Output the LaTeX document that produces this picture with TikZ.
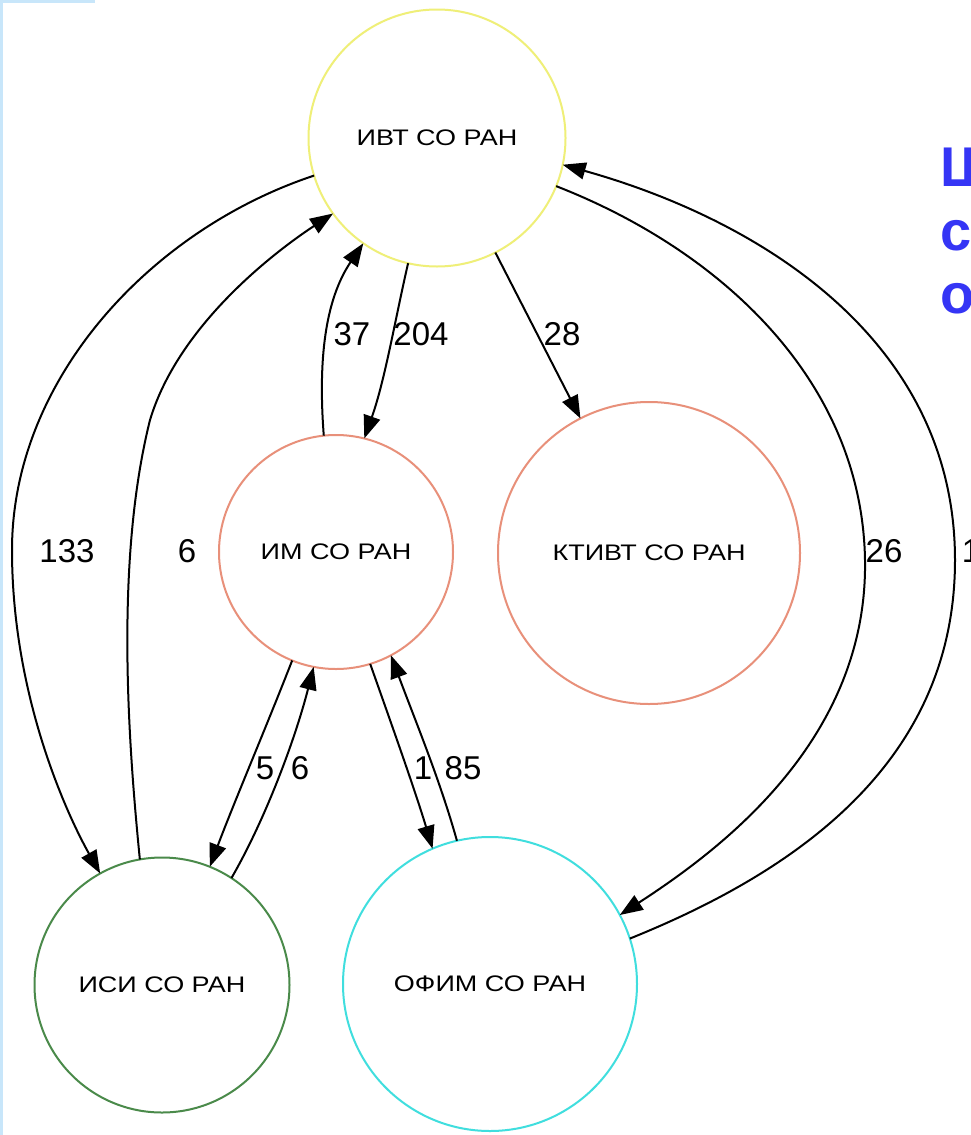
\documentclass[tikz,border=0pt]{standalone}
\usepackage{fontspec}
\setmainfont{Liberation Sans}
\usetikzlibrary{arrows.meta}
\definecolor{cyel}{HTML}{EFEF78}
\definecolor{csal}{HTML}{E8907A}
\definecolor{cgrn}{HTML}{4A8A4A}
\definecolor{ccyan}{HTML}{40DEDE}
\definecolor{cblue}{HTML}{3535F5}
\definecolor{cedge}{HTML}{C8E6FA}
\newcommand{\nlab}[1]{\scalebox{1.2}[1]{#1}}
\tikzset{
  inst/.style={circle, line width=2pt, fill=white, inner sep=0pt, outer sep=0pt,
    font=\fontsize{22.5}{26}\selectfont},
  lnk/.style={line width=2pt, -{Triangle[length=23pt,width=17pt]}},
  lbl/.style={font=\fontsize{33}{38}\selectfont, inner sep=0pt},
  ttl/.style={font=\fontsize{56}{64}\selectfont\bfseries, text=cblue, anchor=base west, inner sep=0pt}
}
\begin{document}
\begin{tikzpicture}[x=1pt,y=-1pt]
\useasboundingbox (0,0) rectangle (971,1135);
\fill[white] (0,0) rectangle (971,1135);
\fill[cedge] (0,0) rectangle (3,1135);
\fill[cedge] (0,0) rectangle (95,3);

% nodes
\node[inst, draw=cyel, minimum size=257pt] (ivt) at (437,138) {\nlab{ИВТ СО РАН}};
\node[inst, draw=csal, minimum size=234pt] (im) at (336,552) {\nlab{ИМ СО РАН}};
\node[inst, draw=csal, minimum size=302pt] (ktivt) at (649,553) {\nlab{КТИВТ СО РАН}};
\node[inst, draw=cgrn, minimum size=255pt] (isi) at (162,985) {\nlab{ИСИ СО РАН}};
\node[inst, draw=ccyan, minimum size=294pt] (ofim) at (490,984) {\nlab{ОФИМ СО РАН}};

% edges
\draw[lnk] (ivt.197) .. controls (150,230) and (12,380) .. (12,550) .. controls (12,700) and (70,820) .. (isi.119);
\draw[lnk] (isi.100) .. controls (128,740) and (115,560) .. (150,420) .. controls (180,320) and (285,245) .. (ivt.216);
\draw[lnk] (im.96) .. controls (318,360) and (325,300) .. (ivt.235);
\draw[lnk] (ivt.257) .. controls (395,320) and (385,380) .. (im.76);
\draw[lnk] (ivt.297) -- (ktivt.117);
\draw[lnk] (ivt.338) .. controls (720,250) and (862,380) .. (865,560) .. controls (868,740) and (720,850) .. (ofim.28);
\draw[lnk] (ofim.18) .. controls (800,870) and (955,760) .. (955,560) .. controls (955,340) and (760,220) .. (ivt.348);
\draw[lnk] (im.248) .. controls (265,730) and (235,800) .. (isi.68);
\draw[lnk] (isi.57) .. controls (265,820) and (295,740) .. (im.259);
\draw[lnk] (im.287) .. controls (390,720) and (415,790) .. (ofim.113);
\draw[lnk] (ofim.103) .. controls (440,780) and (415,720) .. (im.298);

% edge labels
\node[lbl] (l133) at (67,551) {133};
\node[lbl] (l6a) at (187,551) {6};
\node[lbl] (l37) at (352,334) {37};
\node[lbl] (l204) at (421,334) {204};
\node[lbl] (l28) at (562,334) {28};
\node[lbl] (l26) at (884,551) {26};
\node[lbl] (l1a) at (971,551) {1};
\node[lbl] (l5) at (265,768) {5};
\node[lbl] (l6b) at (300,768) {6};
\node[lbl] (l1b) at (423,768) {1};
\node[lbl] (l85) at (463,768) {85};

% title fragments (cut off at the right edge, as in the reference)
\node[ttl] (t1) at (940,186) {Ш};
\node[ttl] (t2) at (940,250) {с};
\node[ttl] (t3) at (940,313) {о};
\end{tikzpicture}
\end{document}
